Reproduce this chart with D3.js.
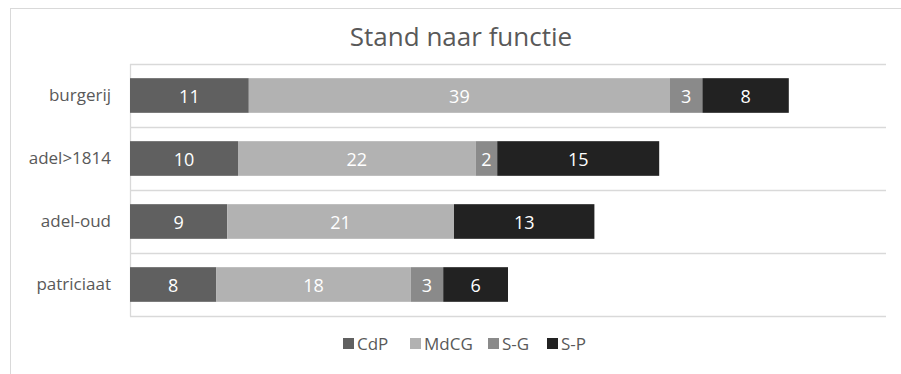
<!DOCTYPE html>
<html><head><meta charset="utf-8">
<script src="https://cdn.jsdelivr.net/npm/d3@7"></script>
<style>body{margin:0;background:#fff;}svg{display:block;font-family:"Open Sans",sans-serif;}</style>
</head><body>
<svg id="c" width="901" height="374"></svg>
<script>
const categories = ["burgerij", "adel>1814", "adel-oud", "patriciaat"];
const seriesNames = ["CdP", "MdCG", "S-G", "S-P"];
const CdP  = [11, 10, 9, 8];
const MdCG = [39, 22, 21, 18];
const SG   = [3, 2, 0, 3];
const SP   = [8, 15, 13, 6];
const xTicksMax = 70;
const title = "Stand naar functie";

const colors = ["#606060", "#b2b2b2", "#8a8a8a", "#222222"];
const svg = d3.select("#c");

// outer border (cropped)
svg.append("rect").attr("x", 10.5).attr("y", 8.5).attr("width", 1000).attr("height", 1000)
  .attr("fill", "#fff").attr("stroke", "#d9d9d9").attr("stroke-width", 1);

const rows = categories.map((c, i) => ({cat: c, CdP: CdP[i], MdCG: MdCG[i], "S-G": SG[i], "S-P": SP[i]}));
const stack = d3.stack().keys(seriesNames)(rows);

const x = d3.scaleLinear().domain([0, xTicksMax]).range([130, 886]);
const y = d3.scaleBand().domain(categories).range([64, 316]).paddingInner(0.45).paddingOuter(0.225);

// gridlines (category boundaries)
const bounds = d3.range(categories.length + 1).map(i => 64 + i * y.step());
svg.append("g").selectAll("line").data(bounds).join("line")
  .attr("x1", x(0)).attr("x2", x(xTicksMax))
  .attr("y1", d => Math.round(d) + 0.5).attr("y2", d => Math.round(d) + 0.5)
  .attr("stroke", "#d9d9d9").attr("stroke-width", 1.3);
svg.append("line").attr("x1", x(0) + 0.5).attr("x2", x(0) + 0.5).attr("y1", 64).attr("y2", 316.5)
  .attr("stroke", "#d9d9d9").attr("stroke-width", 1.3);

// bars
const g = svg.append("g");
stack.forEach((s, si) => {
  const layer = g.append("g").attr("fill", colors[si]);
  layer.selectAll("rect").data(s.filter(d => d[1] - d[0] > 0)).join("rect")
    .attr("x", d => x(d[0])).attr("width", d => x(d[1]) - x(d[0]))
    .attr("y", d => y(d.data.cat)).attr("height", y.bandwidth());
  layer.selectAll("text").data(s.filter(d => d[1] - d[0] > 0)).join("text")
    .attr("x", d => (x(d[0]) + x(d[1])) / 2).attr("y", d => y(d.data.cat) + y.bandwidth() / 2 + 0.5)
    .attr("text-anchor", "middle").attr("dominant-baseline", "central")
    .attr("fill", "#fff").attr("font-size", 18)
    .text(d => d[1] - d[0]);
});

// category axis
const yAxis = d3.axisLeft(y).tickSize(0).tickPadding(19);
const ya = svg.append("g").attr("transform", "translate(130,0)").call(yAxis);
ya.select(".domain").remove();
ya.selectAll("text").attr("font-size", 17).attr("fill", "#595959").attr("font-family", "Open Sans, sans-serif");

// title
svg.append("text").attr("x", 461).attr("y", 36).attr("text-anchor", "middle")
  .attr("dominant-baseline", "central").attr("font-size", 26).attr("fill", "#595959").text(title);

// legend
const legX = [343, 410, 488, 547];
const leg = svg.append("g");
seriesNames.forEach((n, i) => {
  leg.append("rect").attr("x", legX[i]).attr("y", 338).attr("width", 11).attr("height", 11).attr("fill", colors[i]);
  leg.append("text").attr("x", legX[i] + 14).attr("y", 343.5).attr("dominant-baseline", "central")
    .attr("font-size", 17).attr("fill", "#595959").text(n);
});
</script>
</body></html>
